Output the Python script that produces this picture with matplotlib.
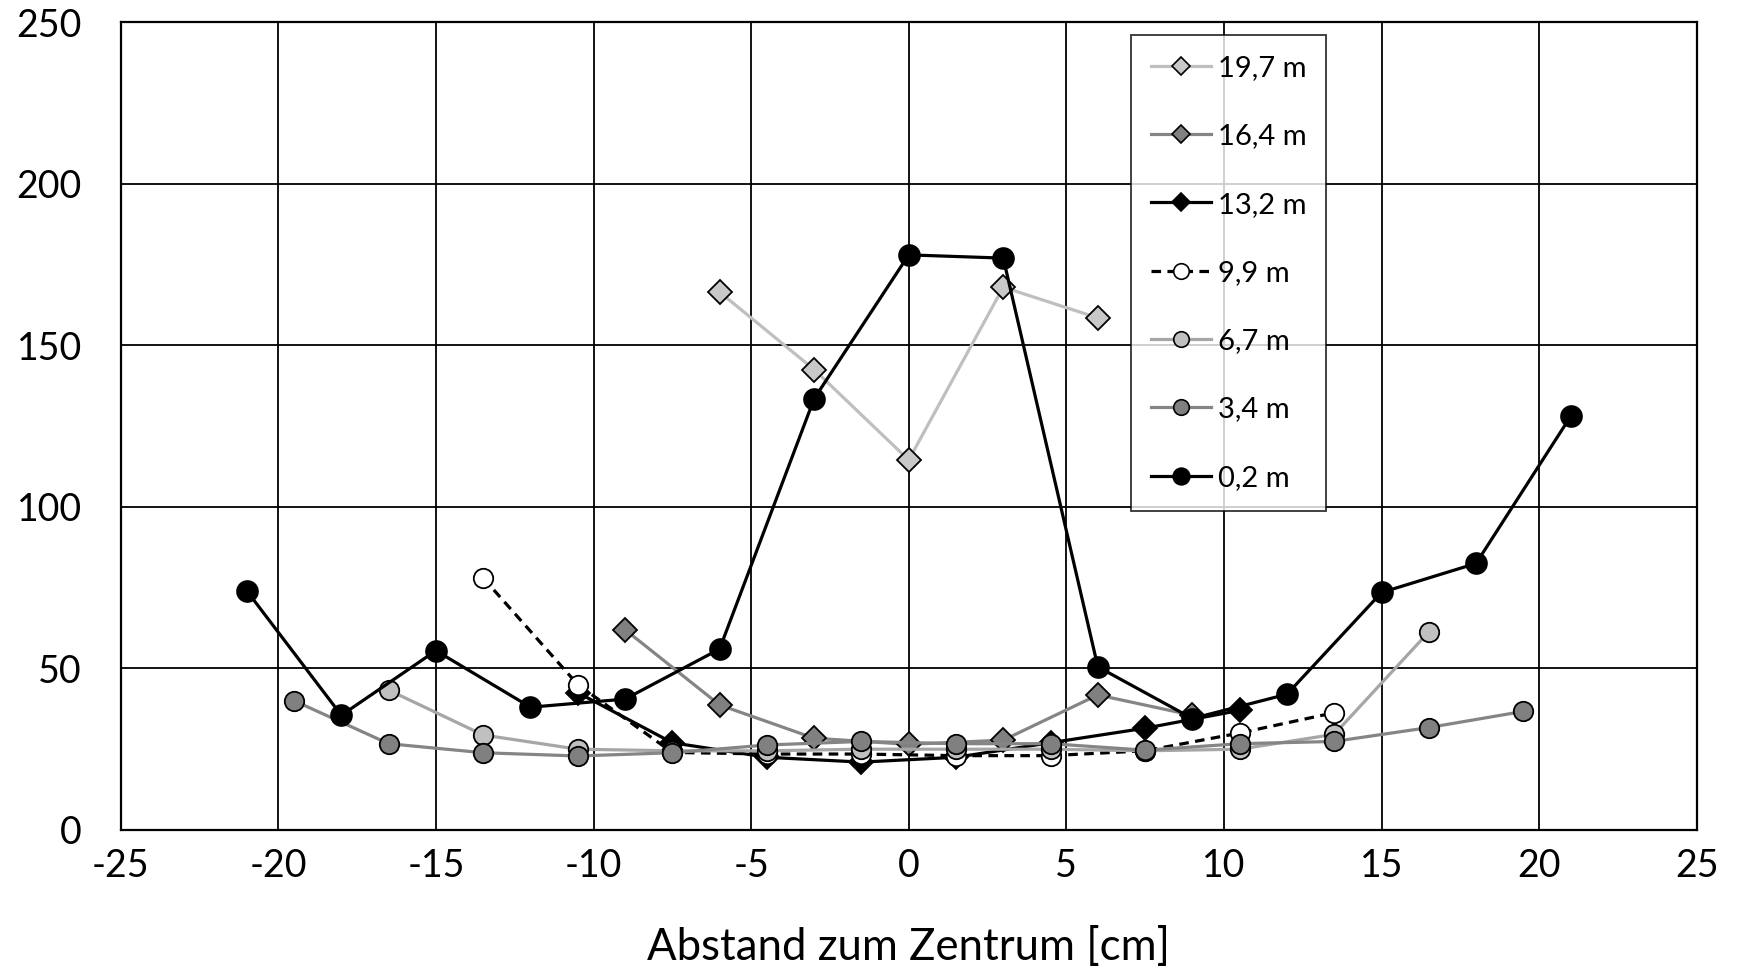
import matplotlib.pyplot as plt
from matplotlib.lines import Line2D

plt.rcParams['font.family'] = ['Lato', 'DejaVu Sans']
plt.rcParams['axes.unicode_minus'] = False

# Abstand zum Zentrum [cm] / Messwerte je Hoehe
x_197 = [-6, -3, 0, 3, 6]
y_197 = [166.5, 142.5, 114.5, 168, 158.5]

x_164 = [-9, -6, -3, 0, 3, 6, 9]
y_164 = [62, 38.7, 28.4, 26.5, 27.8, 41.8, 35.5]

x_132 = [-10.5, -7.5, -4.5, -1.5, 1.5, 4.5, 7.5, 10.5]
y_132 = [42.5, 27, 22.5, 21, 22.5, 27, 31.5, 37]

x_99 = [-13.5, -10.5, -7.5, -4.5, -1.5, 1.5, 4.5, 7.5, 10.5, 13.5]
y_99 = [78, 45, 24, 23.5, 23.5, 23, 23, 24.5, 30, 36.3]

x_67 = [-16.5, -13.5, -10.5, -7.5, -4.5, -1.5, 1.5, 4.5, 7.5, 10.5, 13.5, 16.5]
y_67 = [43.3, 29.4, 25, 24.5, 24.5, 25, 25, 25, 24.5, 25, 29.6, 61.3]

x_34 = [-19.5, -16.5, -13.5, -10.5, -7.5, -4.5, -1.5, 1.5, 4.5, 7.5, 10.5, 13.5, 16.5, 19.5]
y_34 = [40, 26.7, 23.9, 22.9, 23.9, 26.3, 27.4, 26.7, 26.7, 24.7, 26.7, 27.4, 31.7, 36.7]

x_02 = [-21, -18, -15, -12, -9, -6, -3, 0, 3, 6, 9, 12, 15, 18, 21]
y_02 = [74, 35.5, 55.5, 38, 40.5, 56, 133.5, 178, 177, 50.5, 34.5, 42, 73.5, 82.5, 128]

labels = ['19,7 m', '16,4 m', '13,2 m', '9,9 m', '6,7 m', '3,4 m', '0,2 m']

fig = plt.figure(figsize=(17.37, 9.68), dpi=100)
ax = fig.add_axes([0.0695, 0.1426, 0.9073, 0.8344])

# (x, y, linecolor, linestyle, marker, facecolor, markersize)
series = [
    (x_197, y_197, '#bfbfbf', '-', 'D', '#c8c8c8', 12),
    (x_164, y_164, '#858585', '-', 'D', '#808080', 12),
    (x_132, y_132, '#000000', '-', 'D', '#000000', 12),
    (x_99, y_99, '#000000', (0, (3, 2)), 'o', '#ffffff', 14),
    (x_67, y_67, '#a6a6a6', '-', 'o', '#c0c0c0', 14),
    (x_34, y_34, '#858585', '-', 'o', '#808080', 14),
    (x_02, y_02, '#000000', '-', 'o', '#000000', 15),
]

handles = []
for (x, y, lc, ls, mk, fc, ms), lab in zip(series, labels):
    ax.plot(x, y, color=lc, linestyle=ls, linewidth=2.3, marker=mk,
            markersize=ms, markerfacecolor=fc, markeredgecolor='black',
            markeredgewidth=1.3, zorder=3)
    handles.append(Line2D([], [], color=lc, linestyle=ls, linewidth=2.3, marker=mk,
                          markersize=ms * 0.8, markerfacecolor=fc,
                          markeredgecolor='black', markeredgewidth=1.2, label=lab))

ax.set_xlim(-25, 25)
ax.set_ylim(0, 250)
ax.set_xticks(range(-25, 26, 5))
ax.set_yticks(range(0, 251, 50))
ax.grid(True, color='black', linewidth=1.3)
ax.set_axisbelow(True)
for s in ax.spines.values():
    s.set_linewidth(1.6)
ax.tick_params(length=0, labelsize=27)
ax.tick_params(axis='y', pad=28)
ax.tick_params(axis='x', pad=13)
ax.set_xlabel('Abstand zum Zentrum [cm]', fontsize=31.5, labelpad=31)

leg = ax.legend(handles=handles, loc='upper left', bbox_to_anchor=(0.641, 0.984),
                fontsize=21, frameon=True, fancybox=False, edgecolor='black',
                handlelength=2.05, labelspacing=1.45, borderpad=0.68, handletextpad=0.25,
                borderaxespad=0)
leg.get_frame().set_linewidth(1.3)
leg.set_zorder(5)

fig.savefig('out.png', dpi=100, facecolor='white')
